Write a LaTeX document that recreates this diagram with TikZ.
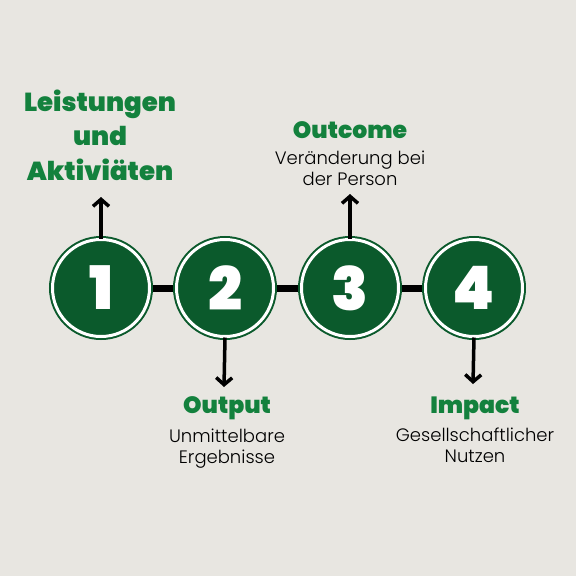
\documentclass[tikz,border=0pt]{standalone}
\usepackage{fontspec}
\usepackage{tikz}
\usetikzlibrary{positioning, arrows.meta, shapes}
\newfontfamily\headfont{Poppins Black}
\newfontfamily\bodyfont{Poppins Light}
\definecolor{bgconcrete}{HTML}{E8E6E1}
\definecolor{stepgreen}{HTML}{0B5A2C}
\definecolor{titlegreen}{HTML}{13813D}
\tikzstyle{stepcircle} = [circle, fill=stepgreen, draw=stepgreen, double=white,
double distance=3pt, line width=2pt, minimum size=97pt, inner sep=0pt,
text=white, font=\headfont\fontsize{60}{60}\selectfont]
\tikzstyle{titleblock} = [align=center, text=titlegreen, inner sep=0pt,
font=\headfont\fontsize{23.5}{34}\selectfont]
\tikzstyle{textblock} = [align=center, text=black, inner sep=0pt,
font=\bodyfont\fontsize{18}{21}\selectfont]
\tikzstyle{link} = [line width=7pt]
\tikzstyle{arrow} = [line width=3.5pt,-{Straight Barb[length=7pt,width=16pt]}]
\begin{document}
\begin{tikzpicture}[x=1pt, y=-1pt]
                \fill[bgconcrete] (0,0) rectangle (576,576);
                \useasboundingbox (0,0) rectangle (576,576);
                \coordinate (l1) at (101,288);
                \coordinate (l4) at (474,288);
                \draw [link] (l1) -- (l4);
                \node (c1) [stepcircle] at (101,288) {1};
                \node (c2) [stepcircle] at (225,288) {2};
                \node (c3) [stepcircle] at (350,288) {3};
                \node (c4) [stepcircle] at (474,288) {4};
                \coordinate (a1) at (101,197);
                \coordinate (a2) at (224,387);
                \coordinate (a3) at (350,194);
                \coordinate (a4) at (473,384);
                \draw [arrow] (c1.north) -- (a1);
                \draw [arrow] (c2.south) -- (a2);
                \draw [arrow] (c3.north) -- (a3);
                \draw [arrow] (c4.south) -- (a4);
                \node (t1) [titleblock, font=\headfont\fontsize{26}{34.5}\selectfont] at (100,135) {Leistungen\\und\\Aktiviäten};
                \node (t3) [titleblock] at (350,130) {Outcome};
                \node (d3) [textblock, below=12pt of t3] {Veränderung bei\\der Person};
                \node (t2) [titleblock] at (227,408) {Output};
                \node (d2) [textblock, below=9pt of t2] {Unmittelbare\\Ergebnisse};
                \node (t4) [titleblock] at (475,408) {Impact};
                \node (d4) [textblock, below=8pt of t4] {Gesellschaftlicher\\Nutzen};
\end{tikzpicture}
\end{document}
